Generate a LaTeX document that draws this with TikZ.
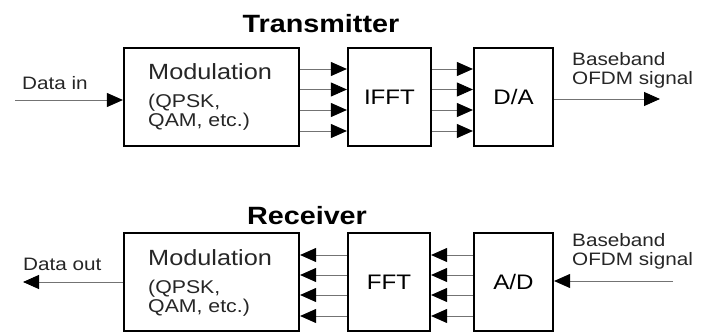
\documentclass[tikz,border=0pt]{standalone}
\usepackage{fontspec}
\setmainfont{Liberation Sans}[FakeStretch=1.15]
\usetikzlibrary{arrows.meta}

\begin{document}
\begin{tikzpicture}[x=1pt,y=-1pt,
        block/.style={draw, line width=2.2pt, minimum height=98pt, inner sep=0pt, font=\fontsize{21}{21}\selectfont},
        sig/.style={black!55, line width=0.9pt, -{Triangle[length=16pt,width=14pt,color=black,fill=black]}},
        lbl/.style={anchor=base west, inner sep=0pt, text=black!85, font=\fontsize{18}{18}\selectfont},
        ttl/.style={anchor=base, inner sep=0pt, font=\fontsize{25}{25}\selectfont\bfseries}]
        \useasboundingbox (0,0) rectangle (710,334);

        % Transmitter
        \node[ttl] (txtitle) at (321,33) {Transmitter};
        \node[block, minimum width=175pt] (txmod) at (211.5,97) {};
        \node[lbl, font=\fontsize{22}{22}\selectfont] (txmodname) at (148,80) {Modulation};
        \node[lbl, font=\fontsize{18.5}{18.5}\selectfont] (txmodtype) at (148,108) {(QPSK,};
        \node[lbl, font=\fontsize{18.5}{18.5}\selectfont] (txmodtypeb) at (148,127) {QAM, etc.)};
        \node[block, minimum width=83pt] (ifft) at (389.5,97) {IFFT};
        \node[block, minimum width=79pt] (da) at (513.5,97) {D/A};
        \coordinate (datain) at (15,100);
        \coordinate (txout) at (660,99);
        \draw[sig] (datain) -- (txmod.west |- datain);
        \node[lbl] (datainlbl) at (22,90) {Data in};
        \foreach \y in {69,89.5,110,131} {
            \draw[sig] (txmod.east |- 0,\y) -- (ifft.west |- 0,\y);
            \draw[sig] (ifft.east |- 0,\y) -- (da.west |- 0,\y);
        }
        \draw[sig] (da.east |- txout) -- (txout);
        \node[lbl] (txbblbl) at (572,66) {Baseband};
        \node[lbl] (txofdmlbl) at (572,85) {OFDM signal};

        % Receiver
        \node[ttl] (rxtitle) at (307,225) {Receiver};
        \node[block, minimum width=175pt] (rxmod) at (211.5,282) {};
        \node[lbl, font=\fontsize{22}{22}\selectfont] (rxmodname) at (148,265) {Modulation};
        \node[lbl, font=\fontsize{18.5}{18.5}\selectfont] (rxmodtype) at (148,293) {(QPSK,};
        \node[lbl, font=\fontsize{18.5}{18.5}\selectfont] (rxmodtypeb) at (148,312) {QAM, etc.)};
        \node[block, minimum width=82pt] (fft) at (389,282) {FFT};
        \node[block, minimum width=79pt] (ad) at (513.5,282) {A/D};
        \coordinate (dataout) at (23,282);
        \coordinate (rxin) at (673,281);
        \draw[sig] (rxmod.west |- dataout) -- (dataout);
        \node[lbl] (dataoutlbl) at (23,270) {Data out};
        \foreach \y in {255,275,295,316} {
            \draw[sig] (ad.west |- 0,\y) -- (fft.east |- 0,\y);
            \draw[sig] (fft.west |- 0,\y) -- (rxmod.east |- 0,\y);
        }
        \draw[sig] (rxin) -- (ad.east |- rxin);
        \node[lbl] (rxbblbl) at (572,246) {Baseband};
        \node[lbl] (rxofdmlbl) at (572,265) {OFDM signal};
    \end{tikzpicture}
\end{document}
